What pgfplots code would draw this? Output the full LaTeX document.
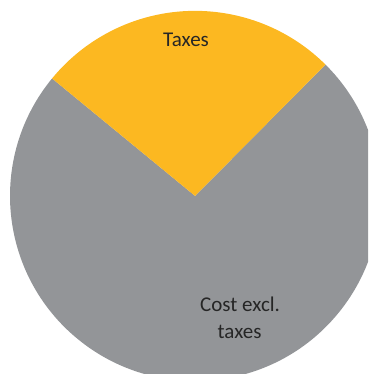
\documentclass[border=0pt]{standalone}
\usepackage{pgfplots}
\usepackage{pgfplotstable}
\pgfplotsset{compat=1.18}
\usepackage{fontspec}
\setmainfont{Carlito}
\definecolor{taxorange}{RGB}{252,184,33}
\definecolor{costgray}{RGB}{147,149,152}
\pgfplotstableread{
label share
Taxes 26.5
Cost 73.5
}\shares
\begin{document}
\begin{tikzpicture}
\pgfplotstablegetelem{0}{share}\of\shares
\pgfmathsetmacro{\taxstart}{45.2}
\pgfmathsetmacro{\taxend}{\taxstart+3.6*\pgfplotsretval}
\pgfplotstablegetelem{1}{share}\of\shares
\pgfmathsetmacro{\costend}{\taxend+3.6*\pgfplotsretval}
\begin{axis}[
  width=368pt, height=374pt, scale only axis,
  xmin=-195, xmax=173, ymin=-178, ymax=196,
  hide axis, clip=true,
]
\addplot[draw=none] coordinates {(0,0)};
\fill[costgray] (axis cs:0,0) -- ++(\taxend:185pt) arc[start angle=\taxend, end angle=\costend, radius=185pt] -- cycle;
\fill[taxorange] (axis cs:0,0) -- ++(\taxstart:185pt) arc[start angle=\taxstart, end angle=\taxend, radius=185pt] -- cycle;
\node[anchor=base, font=\fontsize{21}{26}\selectfont, text=black!85] at (axis cs:-9,149.3) {Taxes};
\node[anchor=base, font=\fontsize{21}{26}\selectfont, text=black!85] at (axis cs:45,-115.7) {Cost excl.};
\node[anchor=base, font=\fontsize{21}{26}\selectfont, text=black!85] at (axis cs:44.5,-142.3) {taxes};
\end{axis}
\end{tikzpicture}
\end{document}
